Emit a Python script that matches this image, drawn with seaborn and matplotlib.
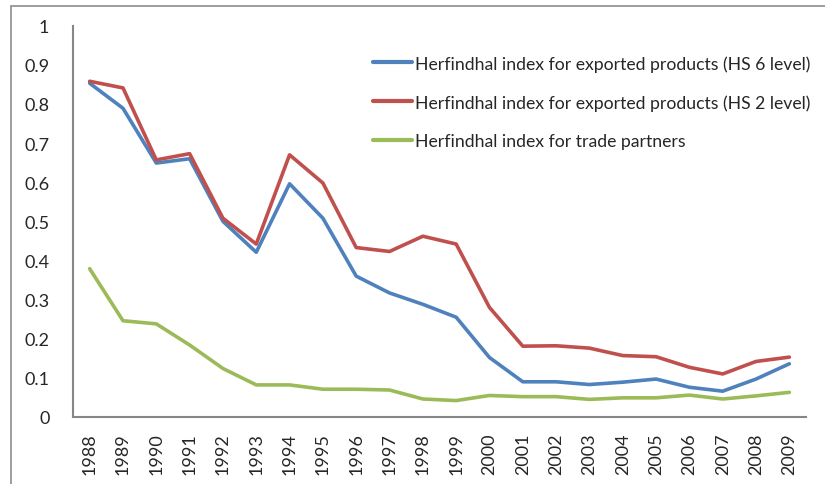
import matplotlib
matplotlib.use("Agg")
import matplotlib.pyplot as plt
import seaborn as sns
import pandas as pd
from matplotlib.patches import Rectangle
from matplotlib.ticker import FixedLocator

years = [str(y) for y in range(1988, 2010)]
hs6 = [0.853, 0.789, 0.649, 0.660, 0.500, 0.421, 0.596, 0.508, 0.360, 0.317, 0.288, 0.255,
       0.152, 0.090, 0.090, 0.083, 0.089, 0.097, 0.076, 0.066, 0.097, 0.136]
hs2 = [0.858, 0.841, 0.657, 0.673, 0.508, 0.442, 0.670, 0.598, 0.433, 0.423, 0.462, 0.442,
       0.280, 0.181, 0.182, 0.176, 0.157, 0.154, 0.127, 0.110, 0.142, 0.153]
partners = [0.379, 0.246, 0.238, 0.184, 0.124, 0.082, 0.082, 0.071, 0.071, 0.069, 0.046, 0.042,
            0.055, 0.052, 0.052, 0.045, 0.049, 0.049, 0.056, 0.046, 0.054, 0.063]
ytick_labels = ["0", "0.1", "0.2", "0.3", "0.4", "0.5", "0.6", "0.7", "0.8", "0.9", "1"]
labels = ["Herfindhal index for exported products (HS 6 level)",
          "Herfindhal index for exported products (HS 2 level)",
          "Herfindhal index for trade partners"]
colors = ["#4F81BD", "#C0504D", "#9BBB59"]

df = pd.concat([
    pd.DataFrame({"idx": range(len(years)), "value": vals, "series": lab})
    for vals, lab in zip([hs6, hs2, partners], labels)
])

sns.set_style("white")
plt.rcParams['font.family'] = ['Lato', 'DejaVu Sans']

fig = plt.figure(figsize=(8.25, 4.85), dpi=100)
ax = fig.add_axes([73/825, 1-418/485, (806-73)/825, (418-26.7)/485])

sns.lineplot(data=df, x="idx", y="value", hue="series", palette=colors,
             hue_order=labels, linewidth=2.6, ax=ax, legend=True)

ax.set_xlim(-0.5, len(years)-0.5)
ax.set_ylim(0, 1)
ax.set_yticks([i/10 for i in range(11)])
ax.set_yticklabels(ytick_labels)
ax.set_xticks(range(len(years)))
ax.set_xticklabels(years, rotation=90)
ax.xaxis.set_minor_locator(FixedLocator([i - 0.5 for i in range(len(years)+1)]))
ax.tick_params(axis="x", which="major", length=0, pad=11, labelsize=13)
ax.tick_params(axis="x", which="minor", length=5, width=1.2, color="#868686", direction="out")
ax.tick_params(axis="y", which="major", length=5, width=1.2, color="#868686",
               direction="out", labelsize=13, pad=12)
ax.set_xlabel("")
ax.set_ylabel("")
for s in ["top", "right"]:
    ax.spines[s].set_visible(False)
for s in ["left", "bottom"]:
    ax.spines[s].set_color("#868686")
    ax.spines[s].set_linewidth(1.5)

leg = ax.legend(loc="upper left", bbox_to_anchor=(373/825, 1-56/485),
                bbox_transform=fig.transFigure, frameon=False, fontsize=12.7,
                handlelength=2.2, handletextpad=0.2, labelspacing=1.27, borderpad=0,
                borderaxespad=0)
for line in leg.get_lines():
    line.set_linewidth(3)

fig.patches.append(Rectangle((11/825, -0.1), 1.2, 1 - 7/485 + 0.1, transform=fig.transFigure,
                             fill=False, edgecolor="#8c8c8c", linewidth=1.2))

fig.savefig("out.png", dpi=100)
